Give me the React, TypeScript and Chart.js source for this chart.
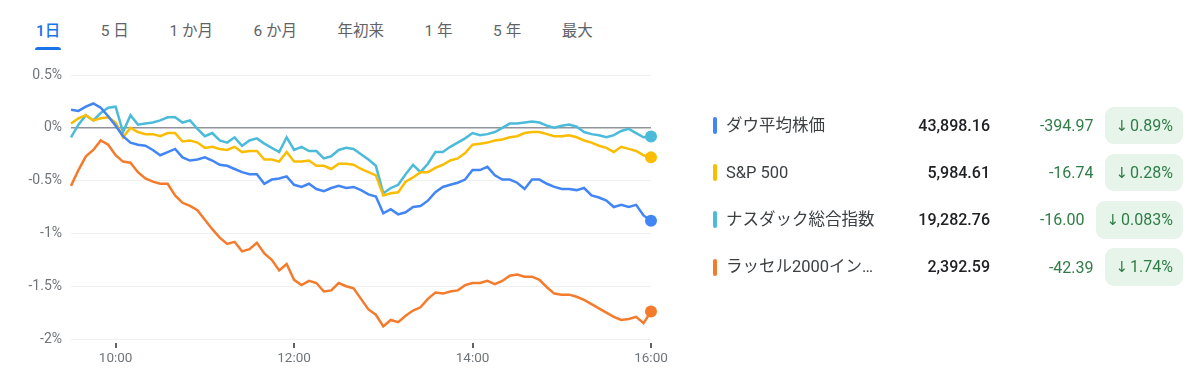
import React, { useEffect, useRef } from "react";
import { Chart, registerables } from "chart.js";

Chart.register(...registerables);

// minutes after 9:30
const minutes = [
  0, 5, 10, 15, 20, 25, 30, 35, 40, 45, 50, 55, 60, 65, 70, 75, 80, 85, 90, 95,
  100, 105, 110, 115, 120, 125, 130, 135, 140, 145, 150, 155, 160, 165, 170, 175, 180, 185, 190, 195,
  200, 205, 210, 215, 220, 225, 230, 235, 240, 245, 250, 255, 260, 265, 270, 275, 280, 285, 290, 295,
  300, 305, 310, 315, 320, 325, 330, 335, 340, 345, 350, 355, 360, 365, 370, 375, 380, 385, 390,
];

const dowValues = [
  0.17, 0.16, 0.2, 0.23, 0.19, 0.11, 0.02, -0.08, -0.14, -0.16,
  -0.17, -0.21, -0.26, -0.23, -0.2, -0.28, -0.31, -0.3, -0.28, -0.31,
  -0.35, -0.36, -0.39, -0.42, -0.44, -0.44, -0.53, -0.49, -0.48, -0.46,
  -0.54, -0.56, -0.53, -0.58, -0.6, -0.57, -0.55, -0.57, -0.56, -0.59,
  -0.63, -0.65, -0.81, -0.77, -0.82, -0.8, -0.75, -0.74, -0.69, -0.61,
  -0.56, -0.54, -0.52, -0.49, -0.4, -0.4, -0.37, -0.45, -0.49, -0.49,
  -0.52, -0.58, -0.49, -0.49, -0.53, -0.56, -0.58, -0.58, -0.59, -0.57,
  -0.64, -0.66, -0.69, -0.75, -0.73, -0.75, -0.73, -0.83, -0.88,
];

const spValues = [
  0.04, 0.09, 0.12, 0.07, 0.09, 0.1, 0.05, -0.09, 0.0, -0.04,
  -0.06, -0.06, -0.08, -0.05, -0.05, -0.13, -0.12, -0.14, -0.19, -0.18,
  -0.2, -0.21, -0.18, -0.23, -0.22, -0.22, -0.3, -0.3, -0.32, -0.23,
  -0.32, -0.32, -0.31, -0.36, -0.36, -0.39, -0.34, -0.34, -0.35, -0.39,
  -0.42, -0.45, -0.64, -0.62, -0.61, -0.51, -0.47, -0.42, -0.42, -0.38,
  -0.35, -0.31, -0.29, -0.24, -0.16, -0.15, -0.14, -0.12, -0.11, -0.09,
  -0.08, -0.05, -0.04, -0.04, -0.06, -0.08, -0.08, -0.07, -0.09, -0.12,
  -0.14, -0.17, -0.19, -0.23, -0.18, -0.2, -0.22, -0.26, -0.28,
];

const nasdaqValues = [
  -0.09, 0.03, 0.12, 0.07, 0.14, 0.19, 0.2, -0.04, 0.12, 0.03,
  0.04, 0.05, 0.07, 0.1, 0.1, 0.05, 0.07, -0.01, -0.08, -0.05,
  -0.12, -0.14, -0.09, -0.17, -0.12, -0.1, -0.15, -0.19, -0.23, -0.09,
  -0.21, -0.18, -0.22, -0.22, -0.29, -0.27, -0.21, -0.19, -0.2, -0.25,
  -0.3, -0.36, -0.62, -0.57, -0.54, -0.44, -0.35, -0.42, -0.34, -0.23,
  -0.23, -0.18, -0.14, -0.1, -0.05, -0.07, -0.06, -0.04, 0.0, 0.04,
  0.04, 0.05, 0.06, 0.05, 0.02, 0.0, 0.02, 0.03, 0.01, -0.04,
  -0.06, -0.07, -0.09, -0.07, -0.03, -0.01, -0.05, -0.09, -0.083,
];

const russellValues = [
  -0.55, -0.4, -0.27, -0.21, -0.12, -0.16, -0.26, -0.32, -0.33, -0.42,
  -0.48, -0.51, -0.53, -0.53, -0.64, -0.71, -0.74, -0.78, -0.87, -0.96,
  -1.04, -1.1, -1.08, -1.17, -1.15, -1.09, -1.19, -1.25, -1.35, -1.29,
  -1.44, -1.49, -1.45, -1.47, -1.55, -1.54, -1.47, -1.5, -1.52, -1.62,
  -1.72, -1.77, -1.88, -1.82, -1.84, -1.78, -1.73, -1.7, -1.62, -1.56,
  -1.57, -1.55, -1.54, -1.49, -1.47, -1.47, -1.45, -1.48, -1.45, -1.4,
  -1.39, -1.41, -1.41, -1.44, -1.51, -1.57, -1.58, -1.58, -1.6, -1.63,
  -1.67, -1.71, -1.75, -1.79, -1.82, -1.81, -1.79, -1.85, -1.74,
];

const xTickMinutes = [30, 150, 270, 390];
const xTickLabels = ["10:00", "12:00", "14:00", "16:00"];
const yMin = -2;
const yMax = 0.5;
const yStep = 0.5;

const tabs = ["1日", "5 日", "1 か月", "6 か月", "年初来", "1 年", "5 年", "最大"];

const seriesNames = ["ダウ平均株価", "S&P 500", "ナスダック総合指数", "ラッセル2000インデックス"];
const prices = ["43,898.16", "5,984.61", "19,282.76", "2,392.59"];
const changes = ["-394.97", "-16.74", "-16.00", "-42.39"];
const changePercents = ["0.89%", "0.28%", "0.083%", "1.74%"];
const seriesColors = ["#4285f4", "#fbbc04", "#4bbbd9", "#f57b2c"];

const FONT = "Roboto, 'Noto Sans CJK JP', sans-serif";
const GREEN = "#2f7d46";

function LineChart() {
  const ref = useRef<HTMLCanvasElement>(null);
  useEffect(() => {
    if (!ref.current) return;
    const seriesValues = [dowValues, spValues, nasdaqValues, russellValues];
    const last = minutes.length - 1;
    const tickMarks = {
      id: "tickMarks",
      afterDraw(chart: any) {
        const { ctx, chartArea, scales } = chart;
        ctx.save();
        ctx.strokeStyle = "#5f6368";
        ctx.lineWidth = 2;
        xTickMinutes.forEach((m) => {
          const px = Math.round(scales.x.getPixelForValue(m));
          ctx.beginPath();
          ctx.moveTo(px, chartArea.bottom + 4);
          ctx.lineTo(px, chartArea.bottom + 9);
          ctx.stroke();
        });
        ctx.restore();
      },
    };
    const datasets = seriesValues.map((vals, si) => ({
      label: seriesNames[si],
      data: minutes.map((m, i) => ({ x: m, y: vals[i] })),
      borderColor: seriesColors[si],
      backgroundColor: seriesColors[si],
      borderWidth: 2.5,
      tension: 0,
      clip: false as any,
      pointRadius: (c: any) => (c.dataIndex === last ? 6 : 0),
      pointBorderWidth: 0,
      pointBackgroundColor: seriesColors[si],
      order: [1, 2, 3, 4][si],
    }));
    const chart = new Chart(ref.current, {
      type: "line",
      data: { datasets },
      plugins: [tickMarks],
      options: {
        animation: false,
        responsive: false,
        devicePixelRatio: 1,
        layout: { padding: { top: 75, right: 29, bottom: 0, left: 0 } },
        plugins: { legend: { display: false }, tooltip: { enabled: false } },
        scales: {
          x: {
            type: "linear",
            min: 0,
            max: 390,
            grid: { display: false },
            border: { display: false },
            afterBuildTicks: (s: any) => {
              s.ticks = xTickMinutes.map((v) => ({ value: v }));
            },
            afterFit: (s: any) => {
              s.height = 39;
            },
            ticks: {
              autoSkip: false,
              maxRotation: 0,
              padding: 4,
              color: "#70757a",
              font: { family: FONT, size: 13.5 },
              callback: (v: any) => {
                const i = xTickMinutes.indexOf(Number(v));
                return i >= 0 ? xTickLabels[i] : "";
              },
            },
          },
          y: {
            min: yMin,
            max: yMax,
            border: { display: false },
            afterFit: (s: any) => {
              s.width = 71;
            },
            grid: {
              drawTicks: false,
              color: (c: any) => (c.tick && c.tick.value === 0 ? "#8f9499" : "#eef0f2"),
              lineWidth: (c: any) => (c.tick && c.tick.value === 0 ? 1.6 : 1),
            },
            ticks: {
              stepSize: yStep,
              padding: 9,
              color: "#70757a",
              font: { family: FONT, size: 14 },
              callback: (v: any) => `${Math.round(Number(v) * 10) / 10}%`,
            },
          },
        },
      },
    });
    return () => chart.destroy();
  }, []);
  return (
    <canvas
      ref={ref}
      width={680}
      height={378}
      style={{ position: "absolute", left: 0, top: 0, width: 680, height: 378 }}
    />
  );
}

function Tabs() {
  return (
    <div
      style={{
        position: "absolute",
        left: 36,
        top: 20,
        display: "flex",
        gap: 40.5,
        fontFamily: FONT,
        fontSize: 15.5,
        lineHeight: "22px",
        color: "#5f6368",
        whiteSpace: "nowrap",
      }}
    >
      {tabs.map((t, i) => (
        <div key={t} style={{ position: "relative", color: i === 0 ? "#1a73e8" : "#5f6368", fontWeight: i === 0 ? 500 : 400 }}>
          {t}
          {i === 0 && (
            <div
              style={{
                position: "absolute",
                left: -1,
                right: -1,
                top: 27,
                height: 3,
                background: "#1a73e8",
                borderRadius: "3px 3px 0 0",
              }}
            />
          )}
        </div>
      ))}
    </div>
  );
}

function Legend() {
  return (
    <>
      {seriesNames.map((name, i) => {
        const center = 125.5 + i * 47.2;
        return (
          <div
            key={name}
            style={{
              position: "absolute",
              left: 0,
              top: center - 19,
              width: 1200,
              height: 38,
              fontFamily: FONT,
            }}
          >
            <div
              style={{
                position: "absolute",
                left: 713,
                top: 10.5,
                width: 3.5,
                height: 17,
                borderRadius: 2,
                background: seriesColors[i],
              }}
            />
            <div
              style={{
                position: "absolute",
                left: 726,
                top: 0,
                height: 38,
                lineHeight: "38px",
                width: 158,
                overflow: "hidden",
                whiteSpace: "nowrap",
                textOverflow: "ellipsis",
                fontSize: 16.5,
                color: "#3c4043",
              }}
            >
              {name}
            </div>
            <div
              style={{
                position: "absolute",
                right: 210,
                top: 0,
                lineHeight: "38px",
                fontSize: 16,
                fontWeight: 500,
                color: "#202124",
              }}
            >
              {prices[i]}
            </div>
            <div
              style={{
                position: "absolute",
                right: 17,
                top: 0,
                height: 38,
                display: "flex",
                alignItems: "center",
                gap: 11,
              }}
            >
              <div style={{ fontSize: 16, color: GREEN }}>{changes[i]}</div>
              <div
                style={{
                  height: 37.5,
                  lineHeight: "37.5px",
                  padding: "0 10px 0 11px",
                  background: "#e6f4ea",
                  borderRadius: 9,
                  fontSize: 16,
                  color: GREEN,
                  whiteSpace: "nowrap",
                }}
              >
                <span style={{ fontFamily: "'DejaVu Sans', sans-serif", fontSize: 15, marginRight: 2 }}>↓</span>
                {changePercents[i]}
              </div>
            </div>
          </div>
        );
      })}
    </>
  );
}

export default function App() {
  return (
    <div
      style={{
        position: "fixed",
        left: 0,
        top: 0,
        width: 1200,
        height: 378,
        background: "#ffffff",
        overflow: "hidden",
      }}
    >
      <Tabs />
      <LineChart />
      <Legend />
    </div>
  );
}
